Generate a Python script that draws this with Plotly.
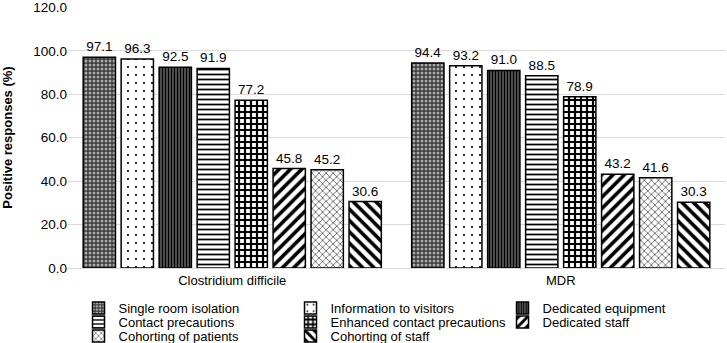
import plotly.graph_objects as go

categories = ["Clostridium difficile", "MDR"]
measures = [
    "Single room isolation",
    "Information to visitors",
    "Dedicated equipment",
    "Contact precautions",
    "Enhanced contact precautions",
    "Dedicated staff",
    "Cohorting of patients",
    "Cohorting of staff",
]
cdiff_values = [97.1, 96.3, 92.5, 91.9, 77.2, 45.8, 45.2, 30.6]
mdr_values = [94.4, 93.2, 91.0, 88.5, 78.9, 43.2, 41.6, 30.3]
y_ticks = [0, 20, 40, 60, 80, 100, 120]

patterns = [
    dict(shape=".", bgcolor="#3a3a3a", fgcolor="#aaaaaa", size=4, solidity=0.45),
    dict(shape=".", bgcolor="white", fgcolor="black", size=8, solidity=0.06),
    dict(shape="|", bgcolor="#666666", fgcolor="black", size=3, solidity=0.5),
    dict(shape="-", bgcolor="white", fgcolor="black", size=5, solidity=0.35),
    dict(shape="+", bgcolor="white", fgcolor="black", size=6, solidity=0.6),
    dict(shape="/", bgcolor="white", fgcolor="black", size=8, solidity=0.45),
    dict(shape="x", bgcolor="white", fgcolor="black", size=5, solidity=0.2),
    dict(shape="\\", bgcolor="white", fgcolor="black", size=8, solidity=0.45),
]
legend_ids = ["legend", "legend", "legend", "legend2", "legend2", "legend2", "legend3", "legend3"]

fig = go.Figure()
for i, name in enumerate(measures):
    vals = [cdiff_values[i], mdr_values[i]]
    p = patterns[i]
    fig.add_trace(go.Bar(
        x=categories, y=vals, name=name, legend=legend_ids[i],
        text=[f"{v:.1f}" for v in vals], textposition="outside",
        textfont=dict(size=13.5, color="black"),
        cliponaxis=False,
        marker=dict(color=p["bgcolor"], line=dict(color="black", width=1.5),
                    pattern=dict(shape=p["shape"], fgcolor=p["fgcolor"],
                                 bgcolor=p["bgcolor"], size=p["size"],
                                 solidity=p["solidity"], fgopacity=1,
                                 fillmode="overlay")),
    ))

def leg(ypix):
    return dict(orientation="h", x=0.016, xanchor="left",
                y=(268 - ypix) / 261, yanchor="middle",
                entrywidth=167, entrywidthmode="pixels", itemwidth=30,
                font=dict(size=13), bgcolor="rgba(0,0,0,0)")

fig.update_layout(
    width=727, height=343,
    margin=dict(l=68, r=2, t=7, b=75, autoexpand=False),
    paper_bgcolor="white", plot_bgcolor="white",
    font=dict(family="Liberation Sans, Arial, sans-serif", size=13, color="black"),
    barmode="group", bargap=0.075, bargroupgap=0.15,
    showlegend=True,
    legend=leg(308), legend2=leg(322), legend3=leg(336),
)
fig.update_yaxes(range=[0, 120.2], tickvals=y_ticks, ticktext=[f"{v:.1f}" for v in y_ticks],
                 showgrid=True, gridcolor="#d9d9d9", gridwidth=1,
                 zeroline=False, showline=False, ticks="",
                 title=dict(text="<b>Positive responses (%)</b>", font=dict(size=13), standoff=19),
                 tickfont=dict(size=13.5))
fig.update_xaxes(showline=True, linecolor="#d9d9d9", linewidth=1, ticks="",
                 tickfont=dict(size=13))

fig.write_html("out.html", config={"displayModeBar": False},
               post_script="document.body.style.margin='0';")
